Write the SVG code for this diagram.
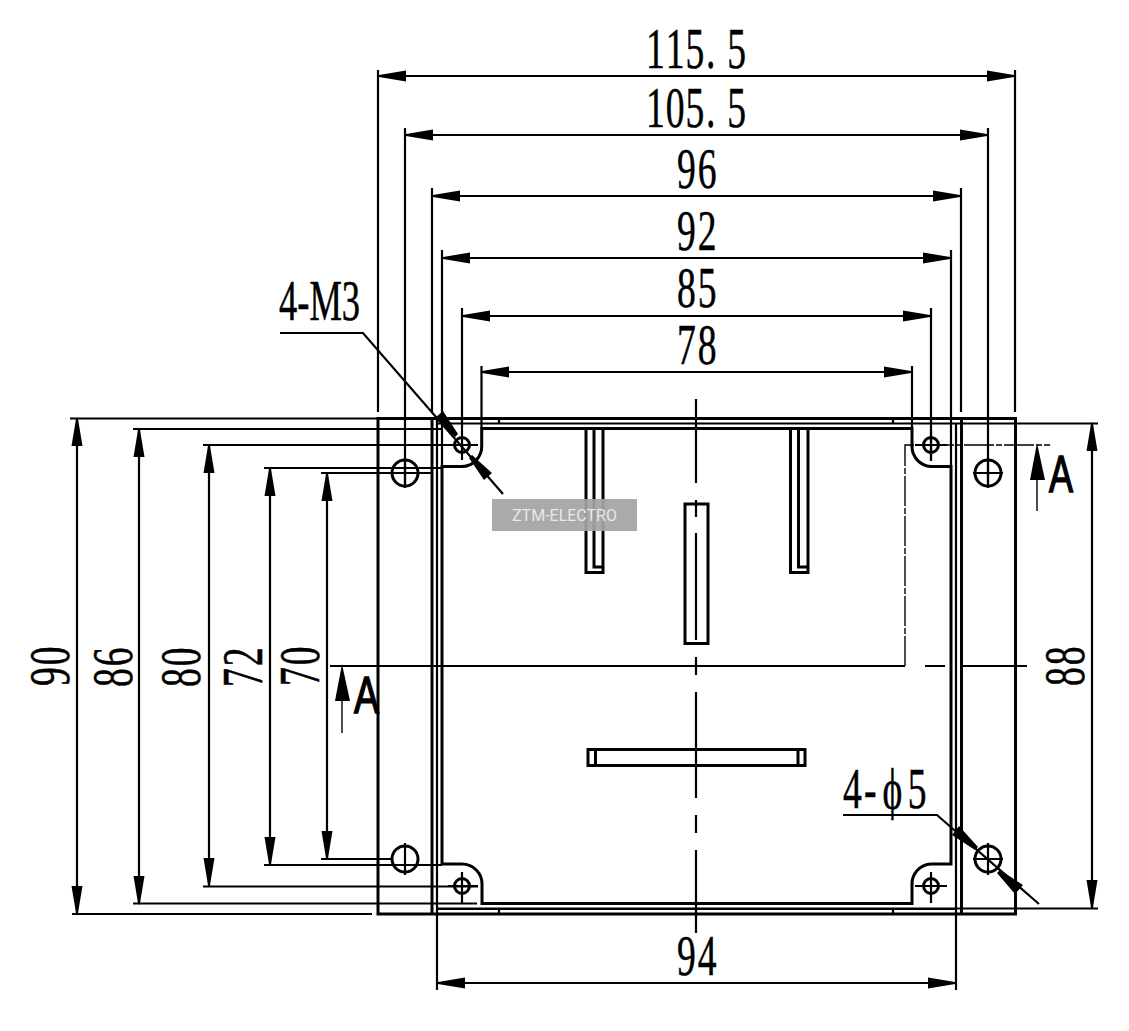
<svg xmlns="http://www.w3.org/2000/svg" width="1129" height="1031" viewBox="0 0 1129 1031">
<style>
.t{font-family:"Liberation Serif","DejaVu Serif",serif;font-size:57px;fill:#000;stroke:#000;stroke-width:.5}
.a{font-family:"Liberation Sans",sans-serif;font-size:52px;fill:#000;stroke:#000;stroke-width:1.5}
.th{fill:none;stroke:#000;stroke-width:3}
.l{fill:none;stroke:#000;stroke-width:2.2}
.s{fill:none;stroke:#000;stroke-width:1.4}
.dim{fill:none;stroke:#000;stroke-width:2.2;marker-start:url(#a);marker-end:url(#a)}
</style>
<defs>
<marker id="a" markerUnits="userSpaceOnUse" markerWidth="30" markerHeight="12" refX="29" refY="6" orient="auto-start-reverse" viewBox="0 0 30 12"><path d="M30 6L28 5L1 .5V11.500L28 7Z" fill="#000"/></marker>
</defs>
<rect width="1129" height="1031" fill="#fff"/>
<g id="body">
<rect class="th" x="378" y="418.500" width="637.500" height="495.500"/>
<path class="th" d="M432 419V914M961.500 419V914"/>
<path class="l" d="M437 420V990M956 423V990"/>
<path class="l" d="M437 909H956M499 419V424M893 419V424M499 909V914M893 909V914"/>
<path class="th" d="M442 466.500H462A20 20 0 0 0 481.700 446V428.500H912V446A20 20 0 0 0 931 466.500H951V864H931A20 20 0 0 0 912 885V903.500H482V885A20 20 0 0 0 462 864H442Z"/>
</g>
<g id="slots">
<path class="th" d="M586 428V572.500H603V428M594 428V567H603M790.500 428V572.500H808V428M798.500 428V567H808"/>
<rect class="th" x="685" y="504" width="23" height="139.500"/>
<rect class="th" x="588" y="749.500" width="217" height="16"/>
<path class="th" d="M595.500 749V765M798 749V765"/>
</g>
<g id="holes">
<circle class="th" cx="405" cy="473" r="13"/><circle class="th" cx="988" cy="473" r="13"/>
<circle class="th" cx="405" cy="859" r="13"/><circle class="th" cx="988" cy="859" r="13"/>
<circle class="th" cx="462" cy="445" r="7.500"/><circle class="th" cx="931" cy="445" r="7.500"/>
<circle class="th" cx="462" cy="886" r="7.500"/><circle class="th" cx="931" cy="886" r="7.500"/>
<path class="l" d="M973 473H1003M988 459V488M973 859H1003M988 843V875M915 445H947M931 432V461M915 886H947M931 872V903M448 886H478M462 872V903M405 843V875M405 459V488"/>
</g>
<g id="centerlines">
<path class="l" d="M696 399V483M696 500V517M696 533V640M696 657V675M696 692V798M696 815V833M696 850V933M330 666H905M925 666H945M960 666H1027"/>
<path class="s" d="M905 666V445H1050" stroke-dasharray="30 2 6 2"/>
</g>
<g id="connectors">
<path class="l" d="M378 70V412M1015 70V412M405 128V487M988 128V487M432 188V412M961 188V412M442 250V466M951 250V466M462 308V460M931 308V460M481.500 366V428M912 366V428"/>
<path class="l" d="M70 418.500H378M133 429H442M203 445H478M264 468H442M321 473H432M321 859H392M264 865H442M203 886.500H478M133 903.500H477M72 914H372M437 423.500H1098M437 908.500H1098"/>
<path class="dim" d="M378 76H1015"/>
<path class="dim" d="M405 135H988"/>
<path class="dim" d="M432 196H961"/>
<path class="dim" d="M442 258H951"/>
<path class="dim" d="M462 316H931"/>
<path class="dim" d="M481 372H912"/>
<path class="dim" d="M437 983H956"/>
<path class="dim" d="M77 418V914"/>
<path class="dim" d="M139 429V904"/>
<path class="dim" d="M209 445V886"/>
<path class="dim" d="M270 468V865"/>
<path class="dim" d="M327 473V859"/>
<path class="dim" d="M1092 423V908"/>
<path class="l" d="M280 333H363L503 494M843 815H937L1039 904"/>
<path d="M455 437L435 418L443 411L458 434ZM472 455L492 473L484 480L469 458ZM975 850L952 835L959 826L978 847ZM1000 870L1023 885L1015 894L997 873Z" fill="#000"/>
<path class="s" d="M342 701V733M1037 480V511"/>
<path d="M342 664L350 701H335ZM1037 443L1045 480H1030Z" fill="#000"/>
</g>
<g id="labels">
<text class="t" transform="translate(646 68) scale(.66 1)" x="0 30 60 91 123">115.5</text>
<text class="t" transform="translate(646 127) scale(.66 1)" x="0 30 60 91 123">105.5</text>
<text class="t" transform="translate(677 188) scale(.66 1)" x="0 31.500">96</text>
<text class="t" transform="translate(677 250) scale(.66 1)" x="0 31.500">92</text>
<text class="t" transform="translate(677 307) scale(.66 1)" x="0 31.500">85</text>
<text class="t" transform="translate(677 364) scale(.66 1)" x="0 31.500">78</text>
<text class="t" transform="translate(677 975) scale(.66 1)" x="0 31.500">94</text>
<text class="t" transform="translate(279 320) scale(.64 1)">4-M3</text>
<text class="t" transform="translate(843 808) scale(.66 1)" x="0 32 60 98">4-ϕ5</text>
<text class="t" transform="translate(69 686) rotate(-90) scale(.66 1)" x="0 31.500">90</text>
<text class="t" transform="translate(132 687) rotate(-90) scale(.66 1)" x="0 31.500">86</text>
<text class="t" transform="translate(200 687) rotate(-90) scale(.66 1)" x="0 31.500">80</text>
<text class="t" transform="translate(262 687) rotate(-90) scale(.66 1)" x="0 31.500">72</text>
<text class="t" transform="translate(319 686) rotate(-90) scale(.66 1)" x="0 31.500">70</text>
<text class="t" transform="translate(1084 686) rotate(-90) scale(.66 1)" x="0 31.500">88</text>
<text class="a" x="354" y="713" textLength="25" lengthAdjust="spacingAndGlyphs">A</text>
<text class="a" x="1049" y="492" textLength="24" lengthAdjust="spacingAndGlyphs">A</text>
</g>
<g id="watermark">
<rect x="492" y="499" width="145" height="32" fill="#a4a4a4" fill-opacity=".93"/>
<text x="564.500" y="521" font-family="Roboto, sans-serif" font-size="16" fill="#e8e8e8" text-anchor="middle">ZTM-ELECTRO</text>
</g>
</svg>
